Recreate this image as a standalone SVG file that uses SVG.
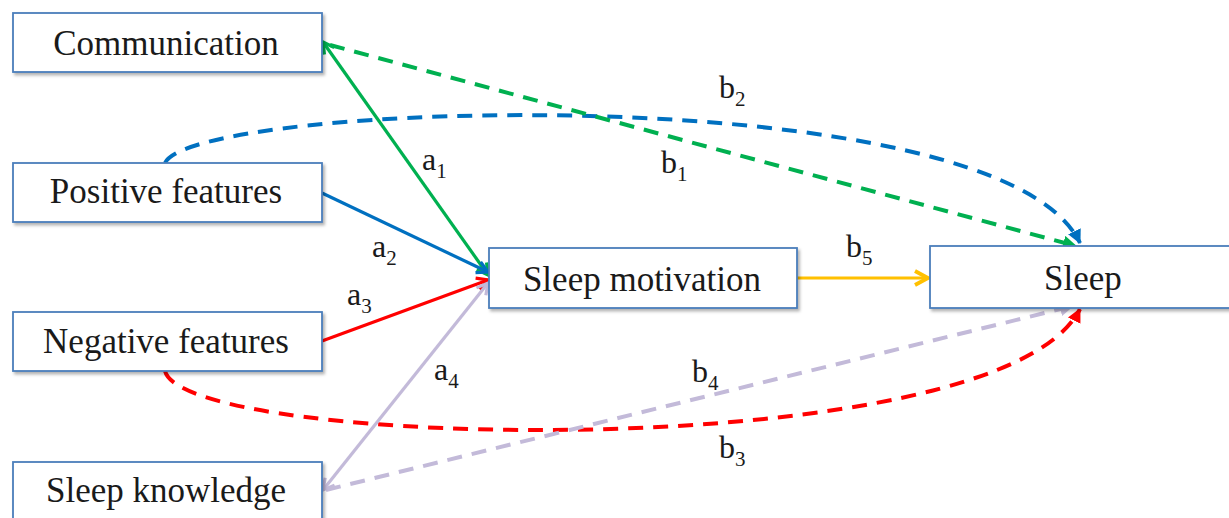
<svg xmlns="http://www.w3.org/2000/svg" width="1229" height="518" viewBox="0 0 1229 518">
<style>
.box{fill:#fff;stroke:#4a7ebb;stroke-width:1.8;filter:url(#sh)}
.t{font-family:"Liberation Serif","Times New Roman",serif;font-size:35px;fill:#1a1a1a;text-anchor:middle}
.l{font-family:"Liberation Serif","Times New Roman",serif;font-size:32px;fill:#1a1a1a}
.s{font-size:21px}
.sol{fill:none;stroke-width:3.2}
.dash{fill:none;stroke-width:4;stroke-dasharray:15 10}
</style>
<defs>
<filter id="sh" x="-5%" y="-10%" width="115%" height="130%">
<feDropShadow dx="2" dy="2.5" stdDeviation="1.5" flood-color="#000" flood-opacity="0.3"/>
</filter>
<marker id="oG" viewBox="0 0 14 14" refX="12" refY="7" markerWidth="14" markerHeight="14" markerUnits="userSpaceOnUse" orient="auto-start-reverse" overflow="visible"><path d="M1,1 L12,7 L1,13" fill="none" stroke="#00b050" stroke-width="3.2"/></marker>
<marker id="oB" viewBox="0 0 14 14" refX="12" refY="7" markerWidth="14" markerHeight="14" markerUnits="userSpaceOnUse" orient="auto-start-reverse" overflow="visible"><path d="M1,1 L12,7 L1,13" fill="none" stroke="#0070c0" stroke-width="3.2"/></marker>
<marker id="oR" viewBox="0 0 14 14" refX="12" refY="7" markerWidth="14" markerHeight="14" markerUnits="userSpaceOnUse" orient="auto-start-reverse" overflow="visible"><path d="M1,1 L12,7 L1,13" fill="none" stroke="#ff0000" stroke-width="3.2"/></marker>
<marker id="oL" viewBox="0 0 14 14" refX="12" refY="7" markerWidth="14" markerHeight="14" markerUnits="userSpaceOnUse" orient="auto-start-reverse" overflow="visible"><path d="M1,1 L12,7 L1,13" fill="none" stroke="#c3bad9" stroke-width="3.2"/></marker>
<marker id="oY" viewBox="0 0 16 16" refX="14" refY="8" markerWidth="16" markerHeight="16" markerUnits="userSpaceOnUse" orient="auto" overflow="visible"><path d="M1,1 L14,8 L1,15" fill="none" stroke="#ffc000" stroke-width="3.8"/></marker>
<marker id="fG" viewBox="0 0 14 14" refX="13" refY="7" markerWidth="14" markerHeight="14" markerUnits="userSpaceOnUse" orient="auto"><path d="M0,0 L14,7 L0,14 z" fill="#00b050"/></marker>
<marker id="fB" viewBox="0 0 14 14" refX="13" refY="7" markerWidth="14" markerHeight="14" markerUnits="userSpaceOnUse" orient="auto"><path d="M0,0 L14,7 L0,14 z" fill="#0070c0"/></marker>
<marker id="fR" viewBox="0 0 14 14" refX="13" refY="7" markerWidth="14" markerHeight="14" markerUnits="userSpaceOnUse" orient="auto"><path d="M0,0 L14,7 L0,14 z" fill="#ff0000"/></marker>
<marker id="fL" viewBox="0 0 14 14" refX="13" refY="7" markerWidth="14" markerHeight="14" markerUnits="userSpaceOnUse" orient="auto"><path d="M0,0 L14,7 L0,14 z" fill="#c3bad9"/></marker>
</defs>
<rect width="1229" height="518" fill="#fff"/>
<g id="connectors">
<path class="dash" stroke="#0070c0" d="M165,163 C195,100 1000,75 1080,243" marker-end="url(#fB)"/>
<path class="dash" stroke="#00b050" d="M330,45 L1076,246" marker-end="url(#fG)"/>
<path class="dash" stroke="#ff0000" d="M165,371 C185,450 1000,468 1080,309" marker-end="url(#fR)"/>
<path class="dash" stroke="#c3bad9" d="M326,490 L1073,306" marker-end="url(#fL)"/>
<path class="sol" stroke="#00b050" d="M323,42 L488,275" marker-start="url(#oG)" marker-end="url(#oG)"/>
<path class="sol" stroke="#0070c0" d="M322,193 L488,272" marker-end="url(#oB)"/>
<path class="sol" stroke="#ff0000" d="M322,341 L488,280" marker-end="url(#oR)"/>
<path class="sol" stroke="#c3bad9" d="M323,490 L488,283" marker-start="url(#oL)" marker-end="url(#oL)"/>
<path class="sol" stroke="#ffc000" stroke-width="3.8" d="M797,278 L928,278" marker-end="url(#oY)"/>
<text class="l" x="422" y="170">a<tspan class="s" dy="8">1</tspan></text>
<text class="l" x="372" y="257">a<tspan class="s" dy="8">2</tspan></text>
<text class="l" x="347" y="305">a<tspan class="s" dy="8">3</tspan></text>
<text class="l" x="434" y="380">a<tspan class="s" dy="8">4</tspan></text>
<text class="l" x="661" y="173">b<tspan class="s" dy="8">1</tspan></text>
<text class="l" x="719" y="98">b<tspan class="s" dy="8">2</tspan></text>
<text class="l" x="719" y="458">b<tspan class="s" dy="8">3</tspan></text>
<text class="l" x="692" y="382">b<tspan class="s" dy="8">4</tspan></text>
<text class="l" x="846" y="257">b<tspan class="s" dy="8">5</tspan></text>
</g>
<g id="communication"><rect class="box" x="13" y="13" width="309" height="59"/><text class="t" x="166" y="55">Communication</text></g>
<g id="positive-features"><rect class="box" x="13" y="163" width="309" height="59"/><text class="t" x="166" y="203">Positive features</text></g>
<g id="negative-features"><rect class="box" x="13" y="312" width="309" height="59"/><text class="t" x="166" y="353">Negative features</text></g>
<g id="sleep-knowledge"><rect class="box" x="13" y="462" width="309" height="60"/><text class="t" x="166" y="502">Sleep knowledge</text></g>
<g id="sleep-motivation"><rect class="box" x="489" y="248" width="308" height="60"/><text class="t" x="642" y="291">Sleep motivation</text></g>
<g id="sleep"><rect class="box" x="930" y="246" width="306" height="62"/><text class="t" x="1083" y="290">Sleep</text></g>
</svg>
